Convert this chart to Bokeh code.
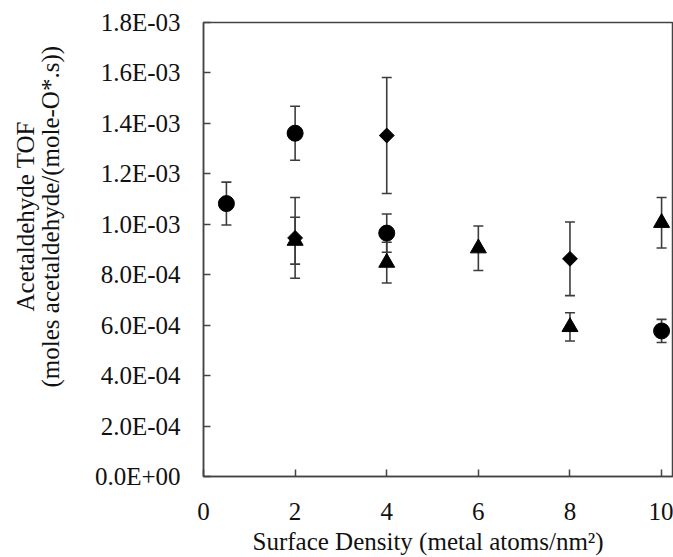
import math
from bokeh.plotting import figure
from bokeh.models import (ColumnDataSource, Whisker, TeeHead, FixedTicker,
                          CustomJSTickFormatter, Title, Range1d)
from bokeh.embed import file_html
from bokeh.resources import INLINE

# ---- data ----
circle_x = [0.5, 2, 4, 10]
circle_y = [1.082e-3, 1.361e-3, 0.965e-3, 0.577e-3]
circle_err = [0.085e-3, 0.107e-3, 0.076e-3, 0.046e-3]

triangle_x = [2, 4, 6, 8, 10]
triangle_y = [0.935e-3, 0.848e-3, 0.905e-3, 0.593e-3, 1.006e-3]
triangle_err = [0.093e-3, 0.081e-3, 0.088e-3, 0.056e-3, 0.100e-3]

diamond_x = [2, 4, 8]
diamond_y = [0.946e-3, 1.352e-3, 0.863e-3]
diamond_err = [0.160e-3, 0.230e-3, 0.146e-3]

x_ticks = [0, 2, 4, 6, 8, 10]
y_ticks = [0.0, 0.0002, 0.0004, 0.0006, 0.0008, 0.0010, 0.0012, 0.0014, 0.0016, 0.0018]

x_title = "Surface Density (metal atoms/nm\u00b2)"
y_title_1 = "Acetaldehyde TOF"
y_title_2 = "(moles acetaldehyde/(mole-O*.s))"

FONT = "'Liberation Serif', 'Times New Roman', serif"
FONT_SIZE = "25px"
AXIS_COLOR = "#444444"
BAR_COLOR = "#3c3c3c"
TEXT_COLOR = "#111111"

p = figure(frame_width=470, frame_height=454,
           min_border_left=203, min_border_right=0,
           min_border_top=22, min_border_bottom=60,
           x_range=Range1d(0, 10.26), y_range=Range1d(0, 1.8e-3),
           output_backend="svg", toolbar_location=None)

p.xgrid.visible = False
p.ygrid.visible = False
p.outline_line_color = AXIS_COLOR
p.outline_line_width = 1.5
p.background_fill_color = "white"
p.border_fill_color = "white"

for ax in (p.xaxis[0], p.yaxis[0]):
    ax.axis_line_color = AXIS_COLOR
    ax.axis_line_width = 1.5
    ax.major_tick_line_color = AXIS_COLOR
    ax.major_tick_line_width = 1.5
    ax.major_tick_in = 7
    ax.major_tick_out = 0
    ax.minor_tick_line_color = None
    ax.major_label_text_font = FONT
    ax.major_label_text_font_size = FONT_SIZE
    ax.major_label_text_color = TEXT_COLOR

p.xaxis.ticker = FixedTicker(ticks=x_ticks)
p.yaxis.ticker = FixedTicker(ticks=y_ticks)
p.xaxis.major_label_standoff = 26
p.yaxis.major_label_standoff = 23
p.yaxis.formatter = CustomJSTickFormatter(code="""
const s = Math.abs(tick) < 1e-12 ? "0.0e+0" : tick.toExponential(1);
const parts = s.split("e");
const sign = parts[1][0];
const d = parts[1].slice(1).padStart(2, "0");
return parts[0] + "E" + sign + d;
""")


def add_series(xs, ys, errs, marker, size, angle=0.0):
    src = ColumnDataSource(dict(x=xs, y=ys,
                                upper=[a + b for a, b in zip(ys, errs)],
                                lower=[a - b for a, b in zip(ys, errs)]))
    w = Whisker(source=src, base="x", upper="upper", lower="lower",
                dimension="height", line_color=BAR_COLOR, line_width=1.6,
                upper_head=TeeHead(size=10, line_color=BAR_COLOR, line_width=1.6),
                lower_head=TeeHead(size=10, line_color=BAR_COLOR, line_width=1.6),
                level="underlay")
    p.add_layout(w)
    p.scatter("x", "y", source=src, marker=marker, size=size, angle=angle,
              fill_color="black", line_color="black")


add_series(circle_x, circle_y, circle_err, "circle", 16)
add_series(diamond_x, diamond_y, diamond_err, "square", 10.5, math.pi / 4)
add_series(triangle_x, triangle_y, triangle_err, "triangle", 16)

# axis titles (side-panel titles, offset like the reference)
p.add_layout(Title(text=x_title, align="left", offset=49, standoff=6,
                   text_font=FONT, text_font_size=FONT_SIZE, text_font_style="normal",
                   text_color=TEXT_COLOR), "below")
p.add_layout(Title(text=y_title_2, align="left", offset=89, standoff=56,
                   text_font=FONT, text_font_size=FONT_SIZE, text_font_style="normal",
                   text_color=TEXT_COLOR), "left")
p.add_layout(Title(text=y_title_1, align="left", offset=165, standoff=-64,
                   text_font=FONT, text_font_size=FONT_SIZE, text_font_style="normal",
                   text_color=TEXT_COLOR), "left")

open("out.html", "w").write(file_html(p, INLINE))
